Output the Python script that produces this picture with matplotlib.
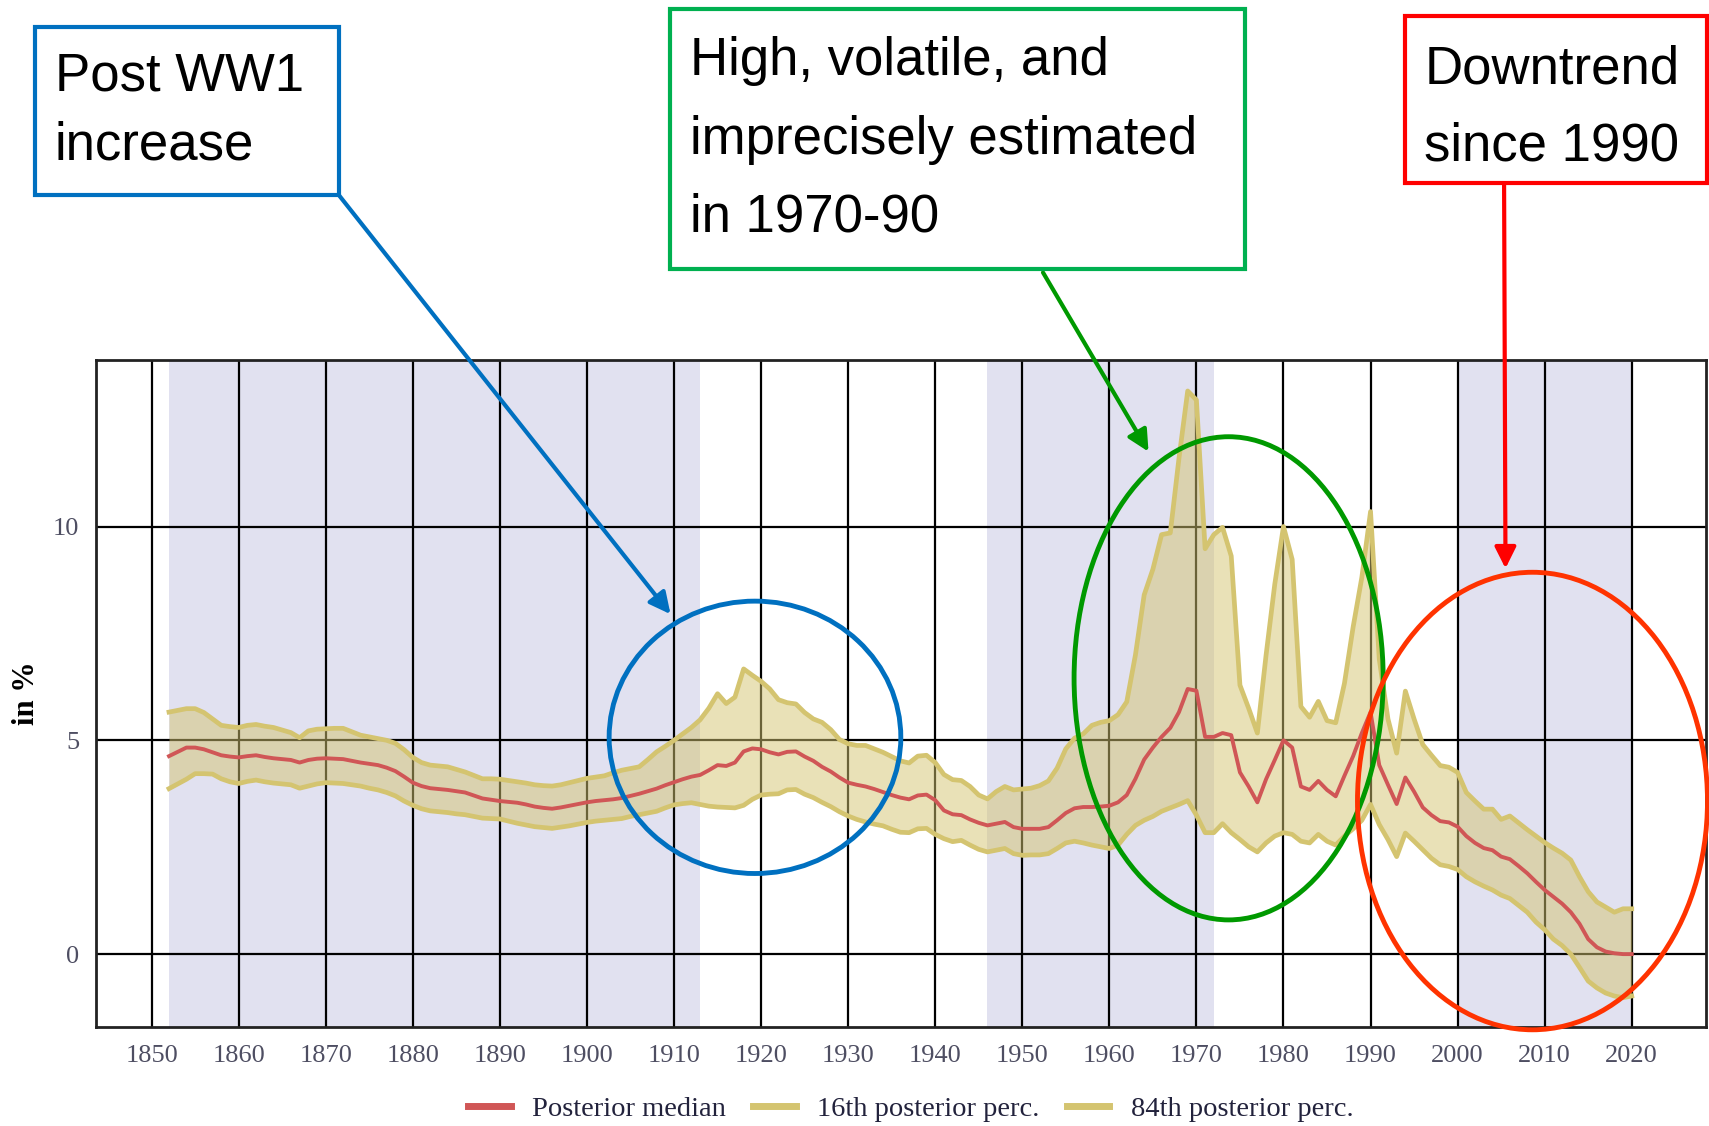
import matplotlib.pyplot as plt
import numpy as np
from matplotlib.patches import Ellipse, Rectangle

# annual estimates, 1852-2020
years = np.arange(1852, 2021)

median = [4.63, 4.73, 4.83, 4.83, 4.79, 4.72, 4.65, 4.62,
          4.60, 4.63, 4.65, 4.61, 4.58, 4.56, 4.54, 4.48, 4.54, 4.57,
          4.58, 4.57, 4.56, 4.52, 4.48, 4.45, 4.42, 4.36, 4.28, 4.15,
          4.01, 3.93, 3.88, 3.86, 3.84, 3.81, 3.78, 3.71, 3.64, 3.61,
          3.58, 3.56, 3.54, 3.50, 3.45, 3.42, 3.40, 3.43, 3.47, 3.51,
          3.55, 3.58, 3.60, 3.62, 3.65, 3.70, 3.75, 3.81, 3.87, 3.95,
          4.02, 4.09, 4.15, 4.19, 4.30, 4.42, 4.40, 4.48, 4.74, 4.81,
          4.79, 4.72, 4.67, 4.73, 4.74, 4.62, 4.52, 4.38, 4.27, 4.13,
          4.01, 3.96, 3.92, 3.86, 3.79, 3.72, 3.66, 3.62, 3.71, 3.73,
          3.60, 3.36, 3.27, 3.25, 3.15, 3.07, 3.01, 3.05, 3.09, 2.97,
          2.93, 2.93, 2.93, 2.97, 3.13, 3.30, 3.41, 3.44, 3.44, 3.45,
          3.47, 3.55, 3.72, 4.10, 4.55, 4.83, 5.08, 5.29, 5.66, 6.20,
          6.16, 5.08, 5.08, 5.17, 5.12, 4.25, 3.92, 3.55, 4.09, 4.54,
          5.00, 4.83, 3.92, 3.84, 4.05, 3.84, 3.69, 4.17, 4.63, 5.17,
          5.66, 4.42, 3.96, 3.51, 4.13, 3.80, 3.43, 3.25, 3.11, 3.08,
          2.98, 2.76, 2.60, 2.48, 2.43, 2.28, 2.22, 2.06, 1.89, 1.69,
          1.50, 1.34, 1.18, 0.98, 0.71, 0.35, 0.16, 0.06, 0.02, 0.00,
          0.00]

p16 = [3.87, 3.98, 4.09, 4.22, 4.22, 4.21, 4.10, 4.03,
       3.99, 4.04, 4.07, 4.03, 4.00, 3.98, 3.96, 3.88, 3.93, 3.98,
       4.01, 4.00, 3.99, 3.96, 3.93, 3.88, 3.84, 3.78, 3.70, 3.58,
       3.48, 3.40, 3.35, 3.33, 3.31, 3.28, 3.26, 3.22, 3.18, 3.17,
       3.16, 3.11, 3.06, 3.02, 2.98, 2.96, 2.94, 2.97, 3.00, 3.04,
       3.08, 3.11, 3.13, 3.15, 3.17, 3.22, 3.26, 3.30, 3.34, 3.42,
       3.49, 3.52, 3.54, 3.50, 3.46, 3.44, 3.43, 3.42, 3.48, 3.62,
       3.72, 3.74, 3.75, 3.84, 3.85, 3.74, 3.66, 3.55, 3.45, 3.33,
       3.23, 3.15, 3.09, 3.04, 3.00, 2.92, 2.85, 2.84, 2.93, 2.94,
       2.80, 2.70, 2.63, 2.66, 2.55, 2.45, 2.39, 2.43, 2.47, 2.35,
       2.31, 2.32, 2.32, 2.35, 2.47, 2.60, 2.64, 2.60, 2.55, 2.51,
       2.47, 2.55, 2.80, 3.01, 3.13, 3.22, 3.34, 3.42, 3.50, 3.59,
       3.25, 2.84, 2.84, 3.05, 2.84, 2.68, 2.51, 2.39, 2.60, 2.76,
       2.84, 2.80, 2.64, 2.60, 2.80, 2.64, 2.55, 2.76, 2.93, 3.13,
       3.50, 3.03, 2.68, 2.28, 2.83, 2.64, 2.44, 2.24, 2.09, 2.05,
       1.98, 1.81, 1.69, 1.59, 1.50, 1.38, 1.30, 1.14, 0.98, 0.75,
       0.57, 0.35, 0.20, 0.00, -0.31, -0.63, -0.79, -0.91, -0.98, -1.02,
       -0.98]

p84 = [5.66, 5.70, 5.74, 5.74, 5.65, 5.50, 5.35, 5.32,
       5.30, 5.35, 5.37, 5.33, 5.30, 5.24, 5.18, 5.06, 5.22, 5.26,
       5.27, 5.28, 5.28, 5.20, 5.12, 5.08, 5.04, 5.00, 4.93, 4.78,
       4.60, 4.48, 4.42, 4.40, 4.38, 4.32, 4.26, 4.18, 4.10, 4.10,
       4.09, 4.06, 4.03, 4.00, 3.96, 3.94, 3.93, 3.96, 4.01, 4.06,
       4.11, 4.14, 4.17, 4.24, 4.30, 4.34, 4.38, 4.55, 4.73, 4.86,
       5.00, 5.15, 5.30, 5.48, 5.75, 6.09, 5.86, 6.01, 6.67, 6.52,
       6.38, 6.20, 5.95, 5.88, 5.85, 5.65, 5.50, 5.42, 5.25, 5.02,
       4.92, 4.88, 4.88, 4.80, 4.72, 4.62, 4.52, 4.47, 4.63, 4.65,
       4.48, 4.20, 4.08, 4.06, 3.92, 3.72, 3.63, 3.80, 3.92, 3.84,
       3.86, 3.88, 3.94, 4.05, 4.35, 4.80, 5.05, 5.15, 5.35, 5.42,
       5.46, 5.60, 5.90, 7.00, 8.40, 9.00, 9.81, 9.85, 11.60, 13.17,
       12.96, 9.48, 9.81, 9.98, 9.31, 6.29, 5.75, 5.17, 6.99, 8.65,
       10.00, 9.23, 5.79, 5.54, 5.91, 5.46, 5.41, 6.33, 7.65, 8.81,
       10.35, 6.90, 5.50, 4.70, 6.15, 5.50, 4.90, 4.65, 4.41, 4.37,
       4.25, 3.78, 3.58, 3.39, 3.39, 3.15, 3.23, 3.07, 2.91, 2.76,
       2.61, 2.48, 2.36, 2.20, 1.81, 1.46, 1.22, 1.10, 0.98, 1.06,
       1.06]

shaded = [(1852, 1913), (1946, 1972), (2000, 2020)]
xticks = list(range(1850, 2021, 10))
yticks = [0, 5, 10]

red = '#D05656'
khaki = '#D4C470'
tickcol = '#4e4e62'

fig = plt.figure(figsize=(17.09, 11.26), dpi=100)
ax = fig.add_axes([0.0561, 0.0881, 0.942, 0.5924])

for a, b in shaded:
    ax.axvspan(a, b, color='#E1E1F0', lw=0, zorder=0.2)

ax.fill_between(years, p16, p84, color=khaki, alpha=0.5, lw=0, zorder=2)
ax.plot(years, median, color=red, lw=2.8, label='Posterior median', zorder=3)
ax.plot(years, p16, color=khaki, lw=3.4, label='16th posterior perc.', zorder=3)
ax.plot(years, p84, color=khaki, lw=3.4, label='84th posterior perc.', zorder=3)

ax.set_xlim(1843.6, 2028.5)
ax.set_ylim(-1.7, 13.9)
ax.set_xticks(xticks)
ax.set_yticks(yticks)
ax.set_axisbelow(True)
ax.grid(True, color='black', lw=1.6)
ax.tick_params(length=0, labelsize=19, labelcolor=tickcol)
ax.tick_params(axis='x', pad=13)
ax.tick_params(axis='y', pad=12)
for lab in ax.get_xticklabels() + ax.get_yticklabels():
    lab.set_family('Liberation Serif')
for s in ax.spines.values():
    s.set_color('#222222')
    s.set_linewidth(2)

ax.set_ylabel('in %', fontsize=22, fontweight='bold', family='Liberation Serif')
ax.yaxis.set_label_coords(-0.034, 0.5)

leg = ax.legend(loc='center', bbox_to_anchor=(0.533, 0.0155), bbox_transform=fig.transFigure,
                ncol=3, frameon=False, handlelength=1.5, handletextpad=0.75, columnspacing=0.95,
                prop={'family': 'Liberation Serif', 'size': 20.5})
for t in leg.get_texts():
    t.set_color('#22223c')
for h in leg.get_lines():
    h.set_linewidth(5)

# annotation boxes (figure fractions)
boxes = [
    ((0.0204, 0.8267), 0.1779, 0.1491, '#0070C0', 'Post WW1\nincrease', 0.032, 0.9013, 1.5),
    ((0.3922, 0.7609), 0.3361, 0.2314, '#00B050', 'High, volatile, and\nimprecisely estimated\nin 1970-90', 0.4037, 0.8761, 1.72),
    ((0.8221, 0.8374), 0.1766, 0.1481, '#FF0000', 'Downtrend\nsince 1990', 0.8335, 0.9042, 1.7),
]
for (x0, y0), w, h, col, txt, tx, ty, ls in boxes:
    fig.patches.append(Rectangle((x0, y0), w, h, transform=fig.transFigure, fill=False,
                                 edgecolor=col, lw=3))
    fig.text(tx, ty, txt, ha='left', va='center', fontsize=38, family='Liberation Sans',
             linespacing=ls, color='black')

# arrows from boxes to the chart
arrows = [
    ((1909.6, 7.95), (0.1983, 0.8267), '#0070C0'),
    ((1964.5, 11.75), (0.6103, 0.7580), '#009900'),
    ((2005.5, 9.02), (0.8801, 0.8354), '#FF0000'),
]
for xy, xyt, col in arrows:
    ax.annotate('', xy=xy, xycoords='data', xytext=xyt, textcoords='figure fraction',
                arrowprops=dict(arrowstyle='-|>', color=col, lw=3, mutation_scale=32,
                                shrinkA=0, shrinkB=0), annotation_clip=False)

# ellipses around the periods
ellipses = [
    ((1919.3, 5.07), 33.5, 6.37, '#0070C0'),
    ((1973.7, 6.45), 35.5, 11.3, '#009900'),
    ((2008.6, 3.58), 40.2, 10.7, '#FF3300'),
]
for c, w, h, col in ellipses:
    ax.add_patch(Ellipse(c, w, h, fill=False, edgecolor=col, lw=3.5, clip_on=False, zorder=5))

fig.savefig('out.png', dpi=100)
